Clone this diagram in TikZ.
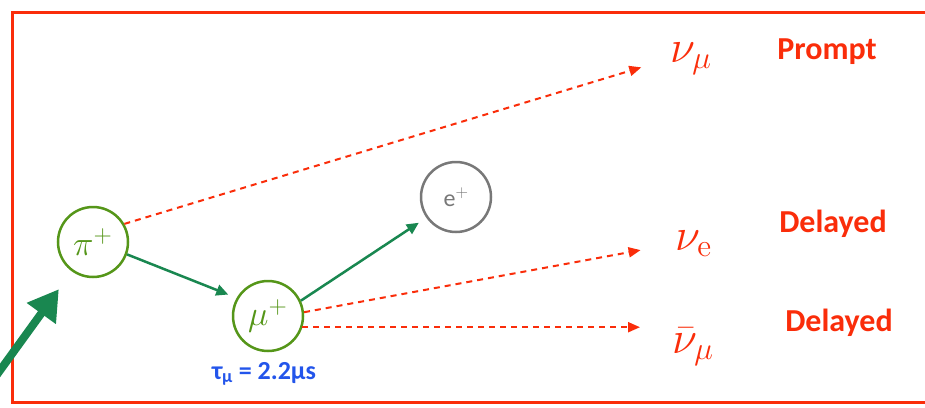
\documentclass[tikz,border=0pt]{standalone}
\usepackage{fontspec}
\usetikzlibrary{arrows.meta}
\newfontfamily\calib{Carlito}
\definecolor{frame}{RGB}{250,45,10}
\definecolor{beam}{RGB}{25,135,80}
\definecolor{ring}{RGB}{85,150,25}
\definecolor{life}{RGB}{35,85,235}
\definecolor{lepton}{RGB}{120,120,120}
\begin{document}
\begin{tikzpicture}[x=1pt,y=-1pt,
  particle/.style={circle,draw=ring,line width=2.5pt,minimum size=70pt,inner sep=0pt,text=ring,font=\fontsize{17.28}{17.28}\selectfont},
  nu/.style={text=frame,font=\fontsize{20.74}{20.74}\selectfont,inner sep=0pt},
  tag/.style={text=frame,font=\calib\bfseries\fontsize{32}{32}\selectfont},
  decay/.style={draw=beam,line width=2.5pt,-{Triangle[length=12pt,width=11pt]}},
  neutrino/.style={draw=frame,line width=2pt,dash pattern=on 6pt off 5pt,-{Triangle[length=12pt,width=10pt]}}]
\useasboundingbox (0,0) rectangle (925,407);
\clip (0,0) rectangle (925,407);
\fill[white] (0,0) rectangle (925,407);
\draw[frame,line width=3pt] (12,12) rectangle (945,402);

\node[particle] (pion) at (93,242) {\scalebox{2}{$\pi^+$}};
\node[particle] (muon) at (268,316) {\scalebox{2}{$\mu^+$}};
\node[particle,draw=lepton,text=lepton,font=\calib\fontsize{24}{24}\selectfont] (positron) at (456,197) {e$^+$};
\coordinate (source) at (-25,405);

\node[nu,anchor=base west] (numu) at (670,62) {\scalebox{2.2}{$\nu_\mu$}};
\node[nu,anchor=base west] (nue) at (675,250) {\scalebox{2.2}{$\nu_{\mathrm{e}}$}};
\node[nu,anchor=base west] (numubar) at (672,353) {\scalebox{2.2}{$\bar\nu_\mu$}};

\node[tag] (prompt) at (827,52) {Prompt};
\node[tag] (delay1) at (833,224) {Delayed};
\node[tag] (delay2) at (839,323) {Delayed};
\node[text=life,font=\calib\bfseries\fontsize{26}{26}\selectfont] (life) at (264,374) {τ\textsubscript{μ} = 2.2μs};

\draw[beam,line width=8pt,-{Triangle[length=30pt,width=34pt]},shorten >=22pt] (source) -- (pion);
\draw[decay,shorten >=9pt] (pion.-20) -- (muon.150);
\draw[decay,shorten >=9pt] (muon.25) -- (positron.215);
\draw[neutrino,shorten >=30pt] (pion.30) -- (numu.west);
\draw[neutrino,shorten >=35pt] (muon.6) -- (nue.west);
\draw[neutrino,shorten >=32pt] (muon.-18) -- (muon.-18 -| numubar.west);
\end{tikzpicture}
\end{document}
